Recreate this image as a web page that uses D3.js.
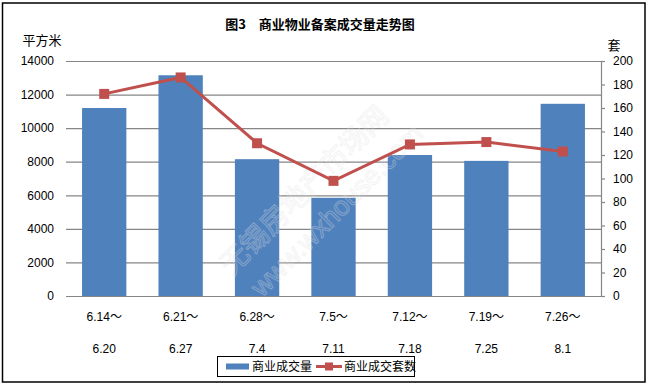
<!DOCTYPE html>
<html>
<head>
<meta charset="utf-8">
<script src="https://cdn.jsdelivr.net/npm/d3@7"></script>
<style>
  body { margin: 0; background: #fff; }
  text { font-family: "Liberation Sans", "DejaVu Sans", sans-serif; }
  .cjk { font-family: "Noto Sans CJK SC", sans-serif; }
</style>
</head>
<body>
<div id="chart"></div>
<script>
// data
var weeksFrom = ["6.14", "6.21", "6.28", "7.5", "7.12", "7.19", "7.26"];
var weeksTo = ["6.20", "6.27", "7.4", "7.11", "7.18", "7.25", "8.1"];
var area = [11200, 13150, 8150, 5850, 8400, 8050, 11450];   // 商业成交量 (平方米)
var units = [172, 186, 130, 98, 129, 131, 123];             // 商业成交套数 (套)
var leftTicks = [0, 2000, 4000, 6000, 8000, 10000, 12000, 14000];
var rightTicks = [0, 20, 40, 60, 80, 100, 120, 140, 160, 180, 200];

var W = 649, H = 387;
var pL = 66, pR = 601, pT = 61, pB = 296;
var blue = "#4F81BD", red = "#C0504D", grid = "#868686";

var svg = d3.select("#chart").append("svg")
    .attr("width", W)
    .attr("height", H);

// outer frame
svg.append("rect")
    .attr("x", 2.5).attr("y", 3)
    .attr("width", 642.5).attr("height", 379)
    .attr("fill", "#fff")
    .attr("stroke", "#000")
    .attr("stroke-width", 1.5);

var x = d3.scaleBand()
    .domain(d3.range(weeksFrom.length))
    .range([pL, pR]);

var yL = d3.scaleLinear().domain([0, 14000]).range([pB, pT]);
var yR = d3.scaleLinear().domain([0, 200]).range([pB, pT]);

// gridlines + left labels
var yAxisL = d3.axisLeft(yL)
    .tickValues(leftTicks)
    .tickSize(-(pR - pL))
    .tickPadding(12)
    .tickFormat(d3.format("d"));

svg.append("g")
    .attr("transform", `translate(${pL},0)`)
    .call(yAxisL)
    .call(g => g.select(".domain").remove())
    .call(g => g.selectAll("line").attr("stroke", grid).attr("stroke-width", 1.2))
    .call(g => g.selectAll("text").attr("font-size", 12).attr("fill", "#000")
        .style("font-family", "'Liberation Sans', sans-serif"));

// bars
var barW = x.bandwidth() * 0.58;
svg.append("g")
    .selectAll("rect")
    .data(area)
    .enter()
    .append("rect")
    .attr("x", (d, i) => x(i) + (x.bandwidth() - barW) / 2)
    .attr("y", d => yL(d))
    .attr("width", barW)
    .attr("height", d => yL(0) - yL(d))
    .attr("fill", blue);

// watermark
var wm = svg.append("g")
    .attr("opacity", 0.35)
    .attr("fill", "none")
    .attr("stroke", "#e0e0e0")
    .attr("stroke-width", 1);
wm.append("text")
    .attr("class", "cjk")
    .attr("transform", "translate(232,276) rotate(-45)")
    .attr("font-size", 28)
    .text("无锡房地产市场网");
wm.append("text")
    .attr("transform", "translate(262,298) rotate(-45)")
    .attr("font-size", 27)
    .text("www.wxhouse.com");

// right axis
svg.append("g")
    .attr("transform", `translate(${pR},0)`)
    .call(d3.axisRight(yR).tickValues(rightTicks).tickSizeInner(4).tickSizeOuter(0).tickPadding(8))
    .call(g => g.select(".domain").attr("stroke", grid).attr("stroke-width", 1.2))
    .call(g => g.selectAll("line").attr("stroke", grid).attr("stroke-width", 1.2))
    .call(g => g.selectAll("text").attr("font-size", 12).attr("fill", "#000")
        .style("font-family", "'Liberation Sans', sans-serif"));

// line series
var cx = i => x(i) + x.bandwidth() / 2;
var line = d3.line()
    .x((d, i) => cx(i))
    .y(d => yR(d));

svg.append("path")
    .datum(units)
    .attr("d", line)
    .attr("fill", "none")
    .attr("stroke", red)
    .attr("stroke-width", 3);

svg.append("g")
    .selectAll("rect")
    .data(units)
    .enter()
    .append("rect")
    .attr("x", (d, i) => cx(i) - 5)
    .attr("y", d => yR(d) - 5)
    .attr("width", 10)
    .attr("height", 10)
    .attr("fill", red);

// category labels (two lines)
var xl = svg.append("g").attr("font-size", 12).attr("text-anchor", "middle");
var from = xl.selectAll(".from")
    .data(weeksFrom)
    .enter()
    .append("text")
    .attr("class", "from")
    .attr("x", (d, i) => cx(i))
    .attr("y", 321);
from.append("tspan").text(d => d);
from.append("tspan")
    .attr("class", "cjk")
    .text("～");
xl.selectAll(".to")
    .data(weeksTo)
    .enter()
    .append("text")
    .attr("class", "to")
    .attr("x", (d, i) => cx(i))
    .attr("y", 353)
    .text(d => d);

// titles
svg.append("text")
    .attr("class", "cjk")
    .attr("x", 320)
    .attr("y", 29)
    .attr("text-anchor", "middle")
    .attr("font-size", 13)
    .attr("font-weight", "bold")
    .text("图3　商业物业备案成交量走势图");

svg.append("text")
    .attr("class", "cjk")
    .attr("x", 42)
    .attr("y", 45)
    .attr("text-anchor", "middle")
    .attr("font-size", 13)
    .text("平方米");

svg.append("text")
    .attr("class", "cjk")
    .attr("x", 614)
    .attr("y", 50)
    .attr("text-anchor", "middle")
    .attr("font-size", 13)
    .text("套");

// legend
var lg = svg.append("g");
lg.append("rect")
    .attr("x", 217.5).attr("y", 356.5)
    .attr("width", 197).attr("height", 20)
    .attr("fill", "#fff")
    .attr("stroke", "#000");
lg.append("rect")
    .attr("x", 226).attr("y", 363.5)
    .attr("width", 23).attr("height", 6)
    .attr("fill", blue);
lg.append("text")
    .attr("class", "cjk")
    .attr("x", 252).attr("y", 371)
    .attr("font-size", 12)
    .text("商业成交量");
lg.append("line")
    .attr("x1", 316).attr("x2", 342)
    .attr("y1", 366.5).attr("y2", 366.5)
    .attr("stroke", red)
    .attr("stroke-width", 3);
lg.append("rect")
    .attr("x", 325).attr("y", 362.5)
    .attr("width", 8).attr("height", 8)
    .attr("fill", red);
lg.append("text")
    .attr("class", "cjk")
    .attr("x", 344).attr("y", 371)
    .attr("font-size", 12)
    .text("商业成交套数");
</script>
</body>
</html>
